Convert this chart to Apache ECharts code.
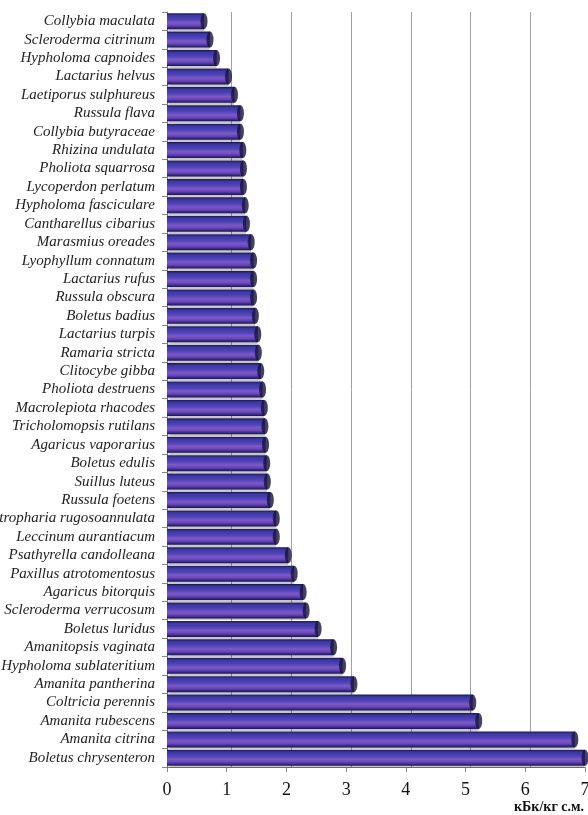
<!DOCTYPE html>
<html>
<head>
<meta charset="utf-8">
<script src="https://cdn.jsdelivr.net/npm/echarts@6/dist/echarts.min.js"></script>
<style>
html,body{margin:0;padding:0;background:#fff;}
#c{width:588px;height:815px;}
</style>
</head>
<body>
<div id="c"></div>
<script>
var categories = [
  'Collybia maculata','Scleroderma citrinum','Hypholoma capnoides','Lactarius helvus',
  'Laetiporus sulphureus','Russula flava','Collybia butyraceae','Rhizina undulata',
  'Pholiota squarrosa','Lycoperdon perlatum','Hypholoma fasciculare','Cantharellus cibarius',
  'Marasmius oreades','Lyophyllum connatum','Lactarius rufus','Russula obscura',
  'Boletus badius','Lactarius turpis','Ramaria stricta','Clitocybe gibba',
  'Pholiota destruens','Macrolepiota rhacodes','Tricholomopsis rutilans','Agaricus vaporarius',
  'Boletus edulis','Suillus luteus','Russula foetens','Stropharia rugosoannulata',
  'Leccinum aurantiacum','Psathyrella candolleana','Paxillus atrotomentosus','Agaricus bitorquis',
  'Scleroderma verrucosum','Boletus luridus','Amanitopsis vaginata','Hypholoma sublateritium',
  'Amanita pantherina','Coltricia perennis','Amanita rubescens','Amanita citrina',
  'Boletus chrysenteron'
];
var values = [
  0.62, 0.72, 0.83, 1.03,
  1.13, 1.23, 1.23, 1.27,
  1.28, 1.28, 1.31, 1.33,
  1.41, 1.45, 1.45, 1.45,
  1.48, 1.52, 1.53, 1.57,
  1.60, 1.63, 1.64, 1.65,
  1.67, 1.68, 1.73, 1.83,
  1.83, 2.03, 2.13, 2.28,
  2.33, 2.53, 2.79, 2.94,
  3.13, 5.12, 5.22, 6.83,
  7.0
];
var xTicks = ['0','1','2','3','4','5','6','7'];
var unitLabel = 'кБк/кг с.м.';

var chart = echarts.init(document.getElementById('c'));
var barGrad = new echarts.graphic.LinearGradient(0,0,0,1,[
  {offset:0, color:'#191550'},
  {offset:0.14, color:'#3a37a0'},
  {offset:0.4, color:'#5043b8'},
  {offset:0.6, color:'#7c58c8'},
  {offset:0.76, color:'#6a48b8'},
  {offset:0.9, color:'#3a2a88'},
  {offset:1, color:'#1a1448'}
]);
var capData = values.map(function(v,i){ return [v, categories[i]]; });

chart.setOption({
  animation:false,
  grid:[
    {left:167, top:12, width:418, height:755, containLabel:false, outerBoundsMode:'none'},
    {left:231.7, top:12, width:358.3, height:755, containLabel:false, outerBoundsMode:'none'}
  ],
  xAxis:[
    {gridIndex:0, type:'value', min:0, max:7, interval:1,
     axisLine:{show:true, lineStyle:{color:'#888'}},
     axisTick:{show:true, length:5, lineStyle:{color:'#888'}},
     splitLine:{show:false},
     axisLabel:{margin:14, color:'#111', fontFamily:'Liberation Serif', fontSize:18,
       formatter:function(v){ return xTicks[v]; }}
    },
    {gridIndex:1, type:'value', min:1, max:7, interval:1,
     axisLine:{show:false}, axisTick:{show:false}, axisLabel:{show:false},
     splitLine:{show:true, lineStyle:{color:'#a0a0a0', width:1}}
    }
  ],
  yAxis:[
    {gridIndex:0, type:'category', data:categories, inverse:true,
     axisLine:{show:true, lineStyle:{color:'#888'}},
     axisTick:{show:true, length:5, interval:0, lineStyle:{color:'#888'}},
     axisLabel:{interval:0, hideOverlap:false, margin:12, color:'#222',
       fontFamily:'Liberation Serif', fontStyle:'italic', fontSize:15}
    },
    {gridIndex:1, type:'category', data:categories, inverse:true, show:false}
  ],
  series:[
    {type:'bar', xAxisIndex:0, yAxisIndex:0, data:values, barWidth:16,
     itemStyle:{color:barGrad, shadowColor:'rgba(0,0,0,0.22)', shadowOffsetY:2, shadowBlur:1},
     z:3},
    {type:'scatter', xAxisIndex:0, yAxisIndex:0, data:capData, symbol:'circle',
     symbolSize:[7,16], itemStyle:{color:'#16123e'}, z:4, silent:true}
  ],
  graphic:[
    {type:'text', right:4, top:800,
     style:{text:unitLabel, fill:'#111', font:'bold 14px "Liberation Serif"', textAlign:'right'}}
  ]
});
</script>
</body>
</html>
